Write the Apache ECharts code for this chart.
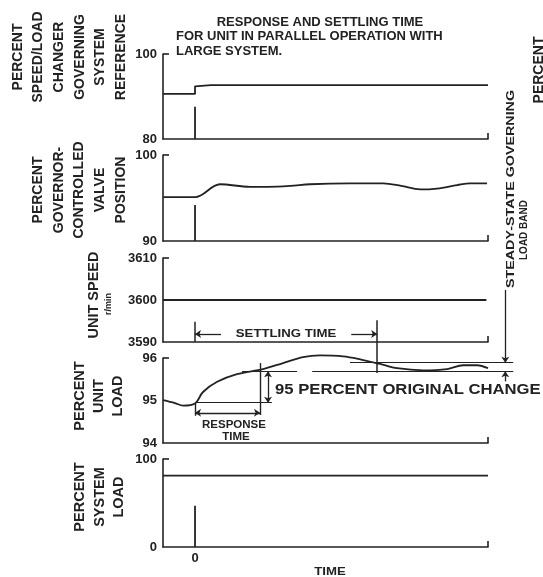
<!DOCTYPE html>
<html>
<head>
<meta charset="utf-8">
<script src="https://cdn.jsdelivr.net/npm/echarts@6/dist/echarts.min.js"></script>
<style>html,body{margin:0;padding:0;background:#fff}#c{width:543px;height:577px}</style>
</head>
<body>
<div id="c"></div>
<script>
// ---------- data (time in arbitrary units, 0 = disturbance) ----------
const timeMin = -1, timeMax = 9.15;
const timeTicks = [0];

const refTicks = [80, 100];
const refSeries = [[-1, 90.6], [0, 90.6], [0, 92.4], [0.5, 92.7], [9.15, 92.7]];
const refMarker = [[0, 80], [0, 87.6]];

const valveTicks = [90, 100];
const valveSeries = [[-1, 95.1], [0, 95.1], [0.78, 96.6], [1.72, 96.3], [2.25, 96.3], [2.97, 96.4], [3.59, 96.6],
  [4.84, 96.7], [5.88, 96.7], [6.44, 96.4], [7.03, 96.0], [7.56, 96.1], [8.19, 96.5], [8.59, 96.7], [9.12, 96.7]];
const valveMarker = [[0, 90], [0, 94.2]];

const speedTicks = [3590, 3600, 3610];
const speedSeries = [[-1, 3600], [9.1, 3600]];
const settleStart = [[0, 3590], [0, 3594.8]];
const settleEnd = [[5.69, 3595.2], [5.69, 3582.6]];
const settleArrowLeft = [[0.81, 3591.9], [0, 3591.9]];
const settleArrowRight = [[4.88, 3591.9], [5.69, 3591.9]];

const loadTicks = [94, 95, 96];
const loadSeries = [[-1, 95.01], [-0.625, 94.94], [-0.375, 94.88], [0, 94.93], [0.25, 95.2], [0.69, 95.44],
  [1.31, 95.62], [2.125, 95.74], [2.75, 95.88], [3.375, 96.02], [3.9, 96.06], [4.625, 96.04], [5.16, 95.97],
  [5.78, 95.86], [6.31, 95.76], [7.125, 95.71], [7.875, 95.74], [8.375, 95.83], [8.81, 95.83], [9.15, 95.76]];
const bandUpper = [[4.84, 95.89], [9.94, 95.89]];
const bandLowerA = [[1.47, 95.69], [3.19, 95.69]];
const bandLowerB = [[3.66, 95.69], [9.94, 95.69]];
const loadBaseline = [[0, 94.95], [2.4, 94.95]];
const pct95Arrow = [[2.28, 95.69], [2.28, 94.95]];
const responseEnd = [[2.03, 95.88], [2.03, 94.66]];
const responseStart = [[0, 94.94], [0, 94.64]];
const responseArrow = [[0, 94.71], [2.03, 94.71]];
const bandArrowTop = [[9.69, 97.6], [9.69, 95.89]];
const bandArrowBottom = [[9.69, 95.45], [9.69, 95.69]];

const sysTicks = [0, 100];
const sysSeries = [[-1, 81], [9.15, 81]];
const sysMarker = [[0, 0], [0, 47]];

// ---------- layout / style ----------
const INK = '#222';
const FF = '"Liberation Sans", Arial, sans-serif';
const grids = [
  { left: 163, width: 325, top: 54, height: 85 },
  { left: 163, width: 325, top: 155, height: 86 },
  { left: 163, width: 325, top: 258, height: 84 },
  { left: 163, width: 325, top: 358, height: 85 },
  { left: 163, width: 325, top: 459, height: 88 }
];
const tickSets = [refTicks, valveTicks, speedTicks, loadTicks, sysTicks];

const xAxes = grids.map((g, i) => ({
  type: 'value', gridIndex: i, min: timeMin, max: timeMax, interval: 1,
  axisLine: { show: true, onZero: false, lineStyle: { color: INK, width: 1.6 } },
  axisTick: { show: true, inside: true, length: 6, customValues: [timeMax], lineStyle: { color: INK, width: 1.6 } },
  axisLabel: { show: i === 4, customValues: timeTicks, color: INK, fontSize: 13, fontWeight: 'bold', fontFamily: FF, margin: 5,
    formatter: v => (timeTicks.indexOf(v) >= 0 ? String(v) : '') },
  splitLine: { show: false }
}));
const yAxes = tickSets.map((t, i) => ({
  type: 'value', gridIndex: i, min: t[0], max: t[t.length - 1], interval: t[1] - t[0],
  axisLine: { show: true, onZero: false, lineStyle: { color: INK, width: 1.6 } },
  axisTick: { show: true, inside: true, length: 6, customValues: [t[t.length - 1]], lineStyle: { color: INK, width: 1.6 } },
  axisLabel: { color: INK, fontSize: 13, fontWeight: 'bold', fontFamily: FF, margin: 6, formatter: v => String(v) },
  splitLine: { show: false }
}));

function curve(i, data, smooth) {
  return { type: 'line', xAxisIndex: i, yAxisIndex: i, data: data, showSymbol: false, smooth: smooth || false,
    clip: false, lineStyle: { color: INK, width: 1.8 }, silent: true, z: 3 };
}
function seg(i, data, sym, w) {
  return { type: 'lines', coordinateSystem: 'cartesian2d', xAxisIndex: i, yAxisIndex: i, polyline: false, clip: false,
    symbol: sym || ['none', 'none'], symbolSize: 6, silent: true,
    lineStyle: { color: INK, width: w || 1.3, opacity: 1, curveness: 0 },
    data: [{ coords: data }], z: 4 };
}

const series = [
  curve(0, refSeries), curve(0, refMarker),
  curve(1, valveSeries, 0.35), curve(1, valveMarker),
  curve(2, speedSeries),
  seg(2, settleStart, null, 1.5), seg(2, settleEnd, null, 1.5),
  seg(2, settleArrowLeft, ['none', 'arrow']), seg(2, settleArrowRight, ['none', 'arrow']),
  curve(3, loadSeries, 0.35),
  seg(3, bandUpper, null, 1.2), seg(3, bandLowerA, null, 1.2), seg(3, bandLowerB, null, 1.2),
  seg(3, loadBaseline, null, 1.2), seg(3, pct95Arrow, ['arrow', 'arrow']),
  seg(3, responseEnd, null, 1.4), seg(3, responseStart, null, 1.4), seg(3, responseArrow, ['arrow', 'arrow']),
  seg(3, bandArrowTop, ['none', 'arrow']), seg(3, bandArrowBottom, ['none', 'arrow']),
  curve(4, sysSeries), curve(4, sysMarker)
];

function txt(x, y, text, size, opts) {
  opts = opts || {};
  return { type: 'text', x: x, y: y, rotation: opts.rot || 0, scaleX: opts.sx || 1, scaleY: 1, silent: true,
    style: { text: text, font: 'bold ' + size + 'px ' + FF, fill: INK, align: opts.align || 'center',
      verticalAlign: 'middle', lineHeight: opts.lh || size * 1.2 } };
}
const R = Math.PI / 2;
const graphic = [
  txt(320, 22, 'RESPONSE AND SETTLING TIME', 13),
  txt(176, 36, 'FOR UNIT IN PARALLEL OPERATION WITH', 13, { align: 'left' }),
  txt(176, 51, 'LARGE SYSTEM.', 13, { align: 'left' }),
  txt(69.5, 57, 'PERCENT\nSPEED/LOAD\nCHANGER\nGOVERNING\nSYSTEM\nREFERENCE', 14, { rot: R, lh: 20.6 }),
  txt(79.5, 190, 'PERCENT\nGOVERNOR-\nCONTROLLED\nVALVE\nPOSITION', 14, { rot: R, lh: 20.7 }),
  txt(94, 295, 'UNIT SPEED', 14.5, { rot: R }),
  txt(109, 304, 'r/min', 9, { rot: R }),
  txt(99, 396, 'PERCENT\nUNIT\nLOAD', 14.5, { rot: R, lh: 19 }),
  txt(99.5, 497, 'PERCENT\nSYSTEM\nLOAD', 14.5, { rot: R, lh: 19.5 }),
  txt(286, 334, 'SETTLING TIME', 11, { sx: 1.2 }),
  txt(275, 390, '95 PERCENT ORIGINAL CHANGE', 14, { align: 'left', sx: 1.19 }),
  txt(234, 425, 'RESPONSE', 10, { sx: 1.15 }),
  txt(236, 437, 'TIME', 10, { sx: 1.15 }),
  txt(511, 189, 'STEADY-STATE GOVERNING', 11, { rot: R, sx: 1.3 }),
  txt(524, 230, 'LOAD BAND', 10, { rot: R }),
  txt(539, 70, 'PERCENT', 14, { rot: R }),
  txt(330, 572, 'TIME', 11, { sx: 1.2 })
];

const chart = echarts.init(document.getElementById('c'), null, { renderer: 'canvas' });
chart.setOption({
  animation: false,
  backgroundColor: '#fff',
  grid: grids,
  xAxis: xAxes,
  yAxis: yAxes,
  series: series,
  graphic: graphic
});
</script>
</body>
</html>
